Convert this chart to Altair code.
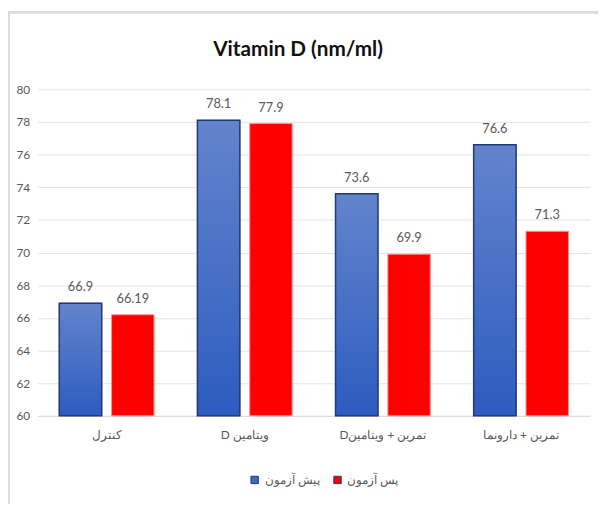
import altair as alt
import pandas as pd

RLE = "\u202B"
PDF = "\u202C"

title_text = "Vitamin D (nm/ml)"
categories = ["کنترل", "ویتامین D", "تمرین + ویتامینD", "تمرین + دارونما"]
series = ["پیش آزمون", "پس آزمون"]
pre_values = [66.9, 78.1, 73.6, 76.6]
post_values = [66.19, 77.9, 69.9, 71.3]
pre_labels = ["66.9", "78.1", "73.6", "76.6"]
post_labels = ["66.19", "77.9", "69.9", "71.3"]
y_ticks = [60, 62, 64, 66, 68, 70, 72, 74, 76, 78, 80]
y_min = 60

cats = [RLE + c + PDF for c in categories]
sers = [RLE + s + PDF for s in series]

rows = []
for c, v, l in zip(cats, pre_values, pre_labels):
    rows.append({"cat": c, "series": sers[0], "value": v, "label": l})
for c, v, l in zip(cats, post_values, post_labels):
    rows.append({"cat": c, "series": sers[1], "value": v, "label": l})
df = pd.DataFrame(rows)

FONT = "Lato"
GRAY = "#595959"

x_enc = alt.X("cat:N", sort=cats, title=None,
              scale=alt.Scale(paddingInner=0.314, paddingOuter=0.157),
              axis=alt.Axis(labelAngle=0, ticks=False, domain=True, domainColor="#d9d9d9",
                            labelFont=FONT, labelFontSize=12, labelColor=GRAY, labelPadding=14))
xo_enc = alt.XOffset("series:N", sort=sers,
                     scale=alt.Scale(paddingInner=0.1887, paddingOuter=0))
y_enc = alt.Y("value:Q", title=None,
              scale=alt.Scale(domain=[60, 80], nice=False, zero=False),
              axis=alt.Axis(values=y_ticks, ticks=False, domain=False, gridColor="#e3e3e3",
                            labelFont=FONT, labelFontSize=12, labelColor=GRAY, labelPadding=8))
y2_enc = alt.Y2(datum=y_min)

base = alt.Chart(df)

bars = base.mark_bar(stroke="#ff9090", strokeWidth=1).encode(
    x=x_enc, xOffset=xo_enc, y=y_enc, y2=y2_enc,
    color=alt.Color("series:N", sort=sers,
                    scale=alt.Scale(domain=sers, range=["#3f68c4", "#ff0000"]),
                    legend=alt.Legend(title=None, orient="none", legendX=214, legendY=390,
                                      direction="horizontal", symbolType="square",
                                      symbolSize=56, symbolStrokeColor="#1f3a78",
                                      symbolStrokeWidth=1,
                                      labelFont=FONT, labelFontSize=12, labelColor=GRAY,
                                      columnPadding=12, labelOffset=4)),
)

grad = alt.Gradient(gradient="linear", x1=0, x2=0, y1=0, y2=1,
                    stops=[alt.GradientStop(color="#6384cc", offset=0),
                           alt.GradientStop(color="#2d5cbf", offset=1)])

blue_bars = base.transform_filter(alt.datum.series == sers[0]).mark_bar(
    fill=grad, stroke="#1f3a78", strokeWidth=1.5
).encode(x=x_enc, xOffset=xo_enc, y=y_enc, y2=y2_enc)

labels = base.mark_text(font=FONT, fontSize=13, color=GRAY, baseline="alphabetic", dy=-12).encode(
    x=x_enc, xOffset=xo_enc, y=y_enc, text="label:N"
)

title_mark = alt.Chart(pd.DataFrame({"t": [title_text]})).mark_text(
    font=FONT, fontSize=21, fontWeight="bold", color="#111111",
    align="center", baseline="alphabetic"
).encode(x=alt.value(264), y=alt.value(-34), text="t:N")

border_top = base.mark_rule(color="#dadde2", strokeWidth=2).encode(
    x=alt.value(-30), x2=alt.value(576), y=alt.value(-78)
)
border_left = base.mark_rule(color="#dadde2", strokeWidth=1.5).encode(
    x=alt.value(-29), y=alt.value(-79), y2=alt.value(420)
)

chart = alt.layer(bars, blue_bars, labels, title_mark, border_top, border_left).properties(
    width=560, height=331,
    padding={"left": 30, "top": 79, "right": 8, "bottom": 87},
    autosize=alt.AutoSizeParams(type="none"),
).configure_view(stroke=None)

chart.save("out.html", embed_options={"renderer": "svg", "actions": False})
